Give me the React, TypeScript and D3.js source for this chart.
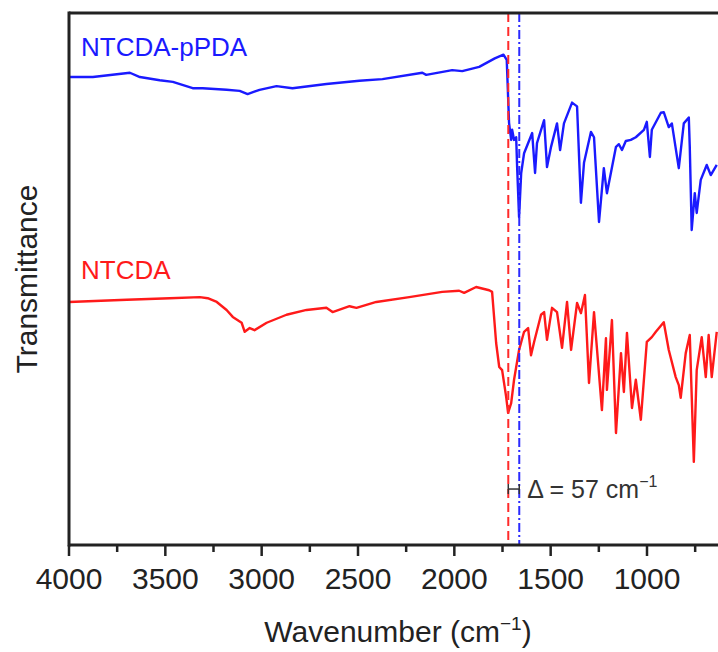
import React from "react";
import * as d3 from "d3";

// Wavenumber (cm^-1), transmittance (a.u.)
const pPDA_wn = [4000, 3876, 3684, 3632, 3529, 3461, 3358, 3306, 3182, 3114, 3073, 3011, 2923, 2840, 2664, 2493, 2373, 2166, 2146, 2011, 1959, 1871, 1790, 1745, 1728, 1716, 1705, 1700, 1690, 1679, 1674, 1664, 1653, 1638, 1596, 1581, 1571, 1534, 1519, 1498, 1467, 1451, 1431, 1389, 1363, 1343, 1327, 1291, 1275, 1249, 1224, 1208, 1161, 1146, 1130, 1110, 1084, 1058, 1016, 1001, 985, 975, 928, 913, 887, 871, 835, 809, 783, 778, 768, 752, 742, 721, 690, 669, 638];
const pPDA_T = [87.8, 87.8, 88.6, 87.8, 87.2, 86.9, 85.7, 85.7, 85.4, 85.2, 84.6, 85.4, 86.1, 85.7, 86.5, 87.1, 87.4, 88.6, 88.2, 89.1, 88.9, 89.7, 91.3, 92.0, 91.0, 79.2, 76.0, 77.9, 76.0, 76.5, 70.9, 61.5, 69.8, 73.5, 77.3, 69.8, 75.4, 79.7, 70.9, 74.7, 79.1, 74.1, 79.1, 83.0, 82.3, 64.2, 71.7, 77.5, 76.5, 60.6, 70.7, 66.0, 74.7, 75.2, 74.1, 75.8, 76.0, 76.5, 77.9, 79.4, 72.8, 77.9, 81.1, 81.2, 78.4, 79.1, 70.7, 79.1, 80.2, 74.7, 59.1, 66.0, 62.3, 68.5, 71.3, 69.4, 71.3];

const ntcda_wn = [4000, 3700, 3477, 3321, 3280, 3233, 3182, 3150, 3104, 3088, 3062, 3037, 2974, 2871, 2767, 2664, 2632, 2544, 2508, 2405, 2234, 2063, 1975, 1949, 1887, 1819, 1804, 1783, 1767, 1752, 1731, 1721, 1705, 1690, 1664, 1638, 1617, 1602, 1586, 1550, 1534, 1519, 1493, 1467, 1441, 1415, 1394, 1363, 1343, 1322, 1301, 1275, 1234, 1213, 1208, 1182, 1161, 1135, 1120, 1104, 1078, 1058, 1032, 1001, 975, 954, 913, 887, 851, 835, 825, 799, 778, 757, 742, 716, 695, 680, 664, 638];
const ntcda_T = [45.6, 46.0, 46.3, 46.5, 46.3, 45.6, 44.1, 42.8, 41.7, 40.0, 40.7, 40.3, 41.7, 43.2, 44.1, 44.5, 43.7, 44.8, 44.5, 45.6, 46.5, 47.5, 47.7, 47.3, 48.4, 47.8, 47.5, 37.9, 33.4, 32.8, 27.8, 24.8, 26.6, 31.0, 36.6, 40.0, 40.7, 35.6, 38.1, 43.2, 43.7, 38.5, 44.5, 43.7, 37.0, 45.6, 36.6, 45.4, 43.5, 46.9, 30.4, 43.7, 25.3, 38.8, 29.1, 42.2, 21.0, 36.0, 28.7, 39.8, 25.7, 31.0, 23.5, 38.1, 39.0, 40.0, 41.8, 36.6, 31.5, 30.0, 27.6, 36.0, 39.4, 15.6, 32.8, 39.0, 31.5, 39.4, 31.5, 40.0];

const majorTicks = [4000, 3500, 3000, 2500, 2000, 1500, 1000];
const minorTicks = [3750, 3250, 2750, 2250, 1750, 1250, 750];
const seriesNames = ["NTCDA-pPDA", "NTCDA"];
const seriesLabelT = [91.7, 49.9];
const markerRed = 1720;
const markerBlue = 1663;
const deltaText = "Δ = 57 cm";
const deltaT = 10.5;

const W = 718;
const H = 652;
const FONT = "Arial, 'Liberation Sans', sans-serif";

export default function App() {
  const x = d3.scaleLinear().domain([4000, 1000]).range([69, 647]);
  const y = d3.scaleLinear().domain([0, 100]).range([545, 12]);
  const line = d3
    .line<[number, number]>()
    .x((d) => x(d[0]))
    .y((d) => y(d[1]))
    .curve(d3.curveLinear);
  const blue = pPDA_wn.map((w, i) => [w, pPDA_T[i]] as [number, number]);
  const red = ntcda_wn.map((w, i) => [w, ntcda_T[i]] as [number, number]);
  const top = y(100) + 1;
  const bottom = y(0);
  const left = x(4000);

  return (
    <svg
      width={W}
      height={H}
      style={{ position: "absolute", left: 0, top: 0, background: "#fff" }}
      fontFamily={FONT}
    >
      <defs>
        <clipPath id="plot">
          <rect x={left} y={top} width={W - left} height={bottom - top} />
        </clipPath>
      </defs>
      <g clipPath="url(#plot)">
        <path d={line(red) || ""} fill="none" stroke="#ff1a1a" strokeWidth={2.4} strokeLinejoin="round" />
        <path d={line(blue) || ""} fill="none" stroke="#1a1aff" strokeWidth={2.4} strokeLinejoin="round" />
      </g>
      <line x1={x(markerRed)} x2={x(markerRed)} y1={top} y2={bottom} stroke="#ff2a2a" strokeWidth={2} strokeDasharray="9,5" />
      <line x1={x(markerBlue)} x2={x(markerBlue)} y1={top} y2={bottom} stroke="#2a2aff" strokeWidth={2} strokeDasharray="9,3,2,3" />

      {/* delta bracket */}
      <g stroke="#333" strokeWidth={1.5}>
        <line x1={x(markerRed)} x2={x(markerBlue)} y1={y(deltaT)} y2={y(deltaT)} />
        <line x1={x(markerRed)} x2={x(markerRed)} y1={y(deltaT) - 5} y2={y(deltaT) + 5} />
        <line x1={x(markerBlue)} x2={x(markerBlue)} y1={y(deltaT) - 5} y2={y(deltaT) + 5} />
      </g>
      <text x={x(markerBlue) + 8} y={y(deltaT) + 9} fontSize={25} fill="#333">
        {deltaText}
        <tspan fontSize={16} dy={-11}>−1</tspan>
      </text>

      {/* series labels */}
      <text x={81} y={y(seriesLabelT[0])} fontSize={26} fill="#1a1aff">{seriesNames[0]}</text>
      <text x={81} y={y(seriesLabelT[1])} fontSize={26} fill="#ff1a1a">{seriesNames[1]}</text>

      {/* frame */}
      <line x1={left} x2={W} y1={top} y2={top} stroke="#222" strokeWidth={3} />
      <line x1={left} x2={left} y1={top - 1.5} y2={bottom + 1.5} stroke="#222" strokeWidth={3} />
      <line x1={left} x2={W} y1={bottom} y2={bottom} stroke="#222" strokeWidth={3} />

      {/* ticks */}
      {majorTicks.map((t) => (
        <g key={"M" + t}>
          <line x1={x(t)} x2={x(t)} y1={bottom} y2={bottom + 11} stroke="#222" strokeWidth={2.5} />
          <text x={x(t)} y={bottom + 44} fontSize={30} fill="#222" textAnchor="middle">{t}</text>
        </g>
      ))}
      {minorTicks.map((t) => (
        <line key={"m" + t} x1={x(t)} x2={x(t)} y1={bottom} y2={bottom + 7} stroke="#222" strokeWidth={2.5} />
      ))}

      {/* axis titles */}
      <text x={398} y={642} fontSize={30} fill="#222" textAnchor="middle">
        Wavenumber (cm<tspan fontSize={19} dy={-12}>−1</tspan><tspan dy={12}>)</tspan>
      </text>
      <text transform={`translate(37, ${(top + bottom) / 2}) rotate(-90)`} fontSize={30} fill="#222" textAnchor="middle">
        Transmittance
      </text>
    </svg>
  );
}
